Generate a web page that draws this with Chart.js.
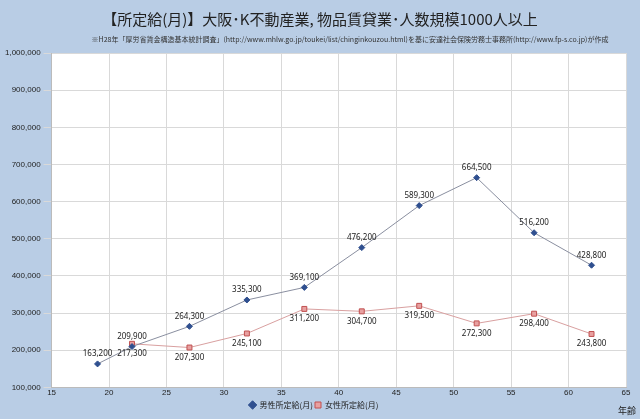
<!DOCTYPE html>
<html>
<head>
<meta charset="utf-8">
<script src="https://cdn.jsdelivr.net/npm/chart.js@4"></script>
<style>
  html, body { margin: 0; padding: 0; background: #b9cde5; }
  #wrap { position: relative; width: 640px; height: 419px; }
  #title { position: absolute; top: 8px; left: 0; width: 640px; text-align: center;
    font: 15px "Noto Sans CJK JP"; color: #222; }
  #sub { position: absolute; top: 34px; left: 60px; width: 580px; text-align: center;
    font: 7px "Noto Sans CJK JP"; color: #333; }
</style>
</head>
<body>
<div id="wrap">
  <div id="title">【所定給(月)】大阪･K不動産業, 物品賃貸業･人数規模1000人以上</div>
  <div id="sub">※H28年「厚労省賃金構造基本統計調査」(http://www.mhlw.go.jp/toukei/list/chinginkouzou.html)を基に安達社会保険労務士事務所(http://www.fp-s.co.jp)が作成</div>
  <canvas id="c" width="640" height="419"></canvas>
</div>
<script>
const maleAges   = [19, 22, 27, 32, 37, 42, 47, 52, 57, 62];
const maleWages  = [163200, 209900, 264300, 335300, 369100, 476200, 589300, 664500, 516200, 428800];
const femaleAges = [22, 27, 32, 37, 42, 47, 52, 57, 62];
const femaleWages = [217300, 207300, 245100, 311200, 304700, 319500, 272300, 298400, 243800];

const fmt = (v) => v.toLocaleString("en-US");

// 値ラベル: 男性は上、女性は下
const valueLabels = {
  id: "valueLabels",
  afterDatasetsDraw(chart) {
    const ctx = chart.ctx;
    ctx.save();
    ctx.font = "8px 'Noto Sans'";
    ctx.fillStyle = "#222";
    ctx.textAlign = "center";
    chart.data.datasets.forEach((ds, i) => {
      chart.getDatasetMeta(i).data.forEach((pt, j) => {
        const above = i === 0;
        ctx.textBaseline = above ? "bottom" : "top";
        ctx.fillText(fmt(ds.data[j].y), pt.x, pt.y + (above ? -6 : 6));
      });
    });
    ctx.font = "9px 'Noto Sans CJK JP'";
    ctx.textAlign = "right";
    ctx.textBaseline = "bottom";
    ctx.fillText("年齢", 636, 415);
    ctx.restore();
  },
};

new Chart(document.getElementById("c"), {
  type: "line",
  data: {
    datasets: [
      {
        label: "男性所定給(月)",
        data: maleAges.map((a, i) => ({ x: a, y: maleWages[i] })),
        borderColor: "#8a8fa0", borderWidth: 1,
        pointStyle: "rectRot", pointRadius: 3,
        pointBackgroundColor: "#2f4f8f", pointBorderColor: "#2f4f8f",
      },
      {
        label: "女性所定給(月)",
        data: femaleAges.map((a, i) => ({ x: a, y: femaleWages[i] })),
        borderColor: "#d9a0a0", borderWidth: 1,
        pointStyle: "rect", pointRadius: 3.5,
        pointBackgroundColor: "#e8a0a0", pointBorderColor: "#c05050",
      },
    ],
  },
  options: {
    responsive: false,
    animation: false,
    layout: { padding: { top: 53, right: 14, left: 2, bottom: 0 } },
    plugins: {
      legend: {
        position: "bottom",
        labels: { usePointStyle: true, boxWidth: 6, boxHeight: 6, padding: 2,
          font: { size: 8, family: "Noto Sans CJK JP" }, color: "#222" },
      },
      tooltip: { enabled: false },
    },
    scales: {
      x: {
        type: "linear", min: 15, max: 65,
        grid: { color: "#d9d9d9", tickLength: 0 },
        border: { color: "#bbb" },
        ticks: { stepSize: 5, font: { size: 8 }, color: "#222", padding: 1 },
      },
      y: {
        min: 100000, max: 1000000,
        grid: { color: "#d9d9d9" },
        border: { color: "#bbb" },
        ticks: { stepSize: 100000, callback: (v) => fmt(v), font: { size: 8 }, color: "#222" },
      },
    },
  },
  plugins: [valueLabels, {
    id: "plotBg",
    beforeDraw(chart) {
      const { ctx, chartArea: a } = chart;
      ctx.save();
      ctx.fillStyle = "#fff";
      ctx.fillRect(a.left, a.top, a.right - a.left, a.bottom - a.top);
      ctx.restore();
    },
  }],
});
</script>
</body>
</html>
